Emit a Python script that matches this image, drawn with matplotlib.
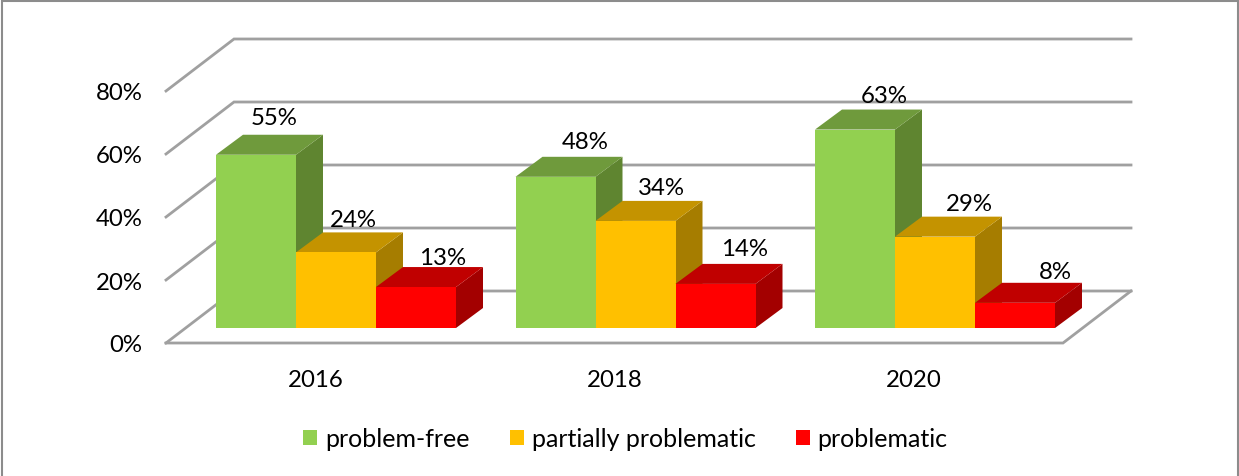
import matplotlib
matplotlib.use('Agg')
import matplotlib.pyplot as plt
from matplotlib.patches import Polygon, Rectangle

years = ['2016', '2018', '2020']
problem_free = [55, 48, 63]
partially = [24, 34, 29]
problematic = [13, 14, 8]
series_names = ['problem-free', 'partially problematic', 'problematic']
y_ticks = [0, 20, 40, 60, 80]

W, H = 1239, 477
plt.rcParams['font.family'] = ['Lato', 'DejaVu Sans']
FS = 17.3

fig = plt.figure(figsize=(W / 100, H / 100), dpi=100)
fig.patch.set_facecolor('white')

# front plane of the fake 3d box, in pixels
left, right, y0, y80 = 166, 1063, 344, 92
ax = fig.add_axes([left / W, 1 - y0 / H, (right - left) / W, (y0 - y80) / H])
ax.set_xlim(0, 3)
ax.set_ylim(0, 80)
ax.patch.set_alpha(0)
for s in ax.spines.values():
    s.set_visible(False)

px_x = 3 / (right - left)
px_y = 80 / (y0 - y80)

# box depth
dx = 68 * px_x
dy = 52 * px_y
grid = '#a0a0a0'
for v in y_ticks:
    ax.plot([0, dx, 3 + dx], [v, v + dy, v + dy], color=grid, lw=2, clip_on=False, zorder=1,
            solid_joinstyle='miter')
# floor outline
ax.plot([0, 3, 3 + dx], [0, 0, dy], color=grid, lw=2, clip_on=False, zorder=1, solid_joinstyle='miter')

ax.set_yticks(y_ticks)
ax.set_yticklabels([f'{v}%' for v in y_ticks], fontsize=FS, color='black')
ax.set_xticks([0.5, 1.5, 2.5])
ax.set_xticklabels(years, fontsize=FS, color='black')
ax.tick_params(length=0, pad=0)
ax.tick_params(axis='y', pad=17)
ax.tick_params(axis='x', pad=19)

# bar geometry
bar_w = 80 * px_x
bar_dx = 27 * px_x
bar_dy = 20 * px_y
base = 15 * px_y
first = 50 * px_x

colors = [('#92d050', '#6f9a3c', '#5f8530'),
          ('#ffc000', '#c49300', '#a67d00'),
          ('#ff0000', '#c00000', '#a30000')]

# the labels were placed by hand in the original, offsets in pixels
label_dx = [[18, 30, 29], [17, 26, 34], [27, 29, 40]]
label_dy = [[17, 15, 14], [13, 13, 13], [10, 15, 11]]

all_series = [problem_free, partially, problematic]
for i in range(len(years)):
    for j, vals in enumerate(all_series):
        v = vals[i]
        x = first + i * (299.5 * px_x) + j * bar_w
        top = base + v
        front, top_c, side = colors[j]
        z = 3 + i * 3 + j
        ax.add_patch(Polygon([(x + bar_w, base), (x + bar_w + bar_dx, base + bar_dy),
                              (x + bar_w + bar_dx, top + bar_dy), (x + bar_w, top)],
                             fc=side, ec='none', clip_on=False, zorder=z))
        ax.add_patch(Polygon([(x, top), (x + bar_dx, top + bar_dy),
                              (x + bar_w + bar_dx, top + bar_dy), (x + bar_w, top)],
                             fc=top_c, ec='none', clip_on=False, zorder=z))
        ax.add_patch(Rectangle((x, base), bar_w, v, fc=front, ec='none', clip_on=False, zorder=z))
        ax.text(x + bar_w / 2 + label_dx[j][i] * px_x, top + bar_dy + label_dy[j][i] * px_y, f'{v}%',
                ha='center', va='center', fontsize=FS, color='black', clip_on=False, zorder=20)

# legend
handles = [Rectangle((0, 0), 1, 1, fc=c[0], ec='none') for c in colors]
fig.legend(handles, series_names, loc='center', bbox_to_anchor=(625.5 / W, 1 - 440 / H), ncol=3,
           frameon=False, fontsize=18, handlelength=0.56, handleheight=0.56,
           handletextpad=0.32, columnspacing=1.6, borderpad=0, borderaxespad=0)

# chart frame
fig.add_artist(Rectangle((2 / W, -0.01), (W - 3.5) / W, 1 - 2 / H + 0.01, transform=fig.transFigure,
                         fc='none', ec='#8c8c8c', lw=1.5))

fig.savefig('out.png', dpi=100)
